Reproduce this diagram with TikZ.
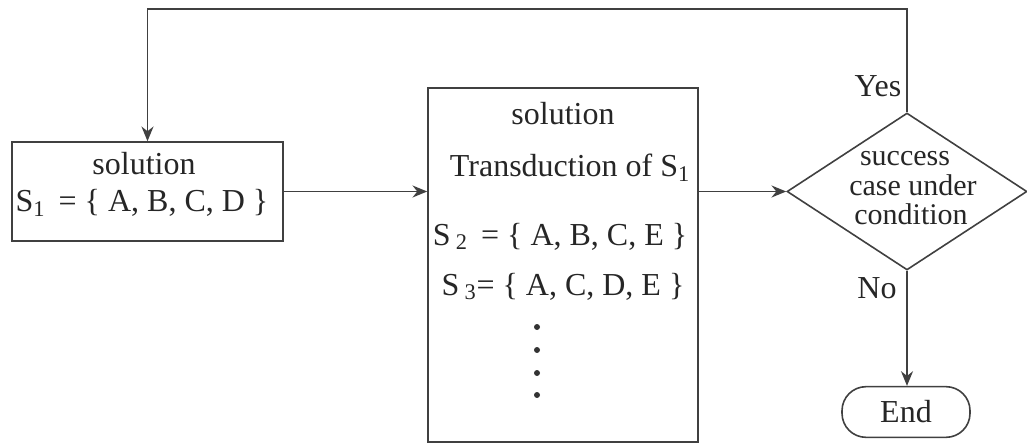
\documentclass[tikz,border=0pt]{standalone}
\usepackage{fontspec}
\setmainfont{Liberation Serif}
\usetikzlibrary{shapes.geometric,arrows.meta}
\begin{document}
\begin{tikzpicture}[x=0.75pt,y=-0.75pt,
  line width=1.2pt,
  every node/.style={text=black!85, font=\fontsize{24}{22}\selectfont},
  boxnode/.style={draw=black!75, rectangle, inner sep=0pt},
  arr/.style={draw=black!75, -{Stealth[length=11pt,width=9pt]}},
  txt/.style={inner sep=0pt, anchor=base},
  qtxt/.style={txt, font=\fontsize{22.5}{22}\selectfont},
  dotn/.style={circle, fill=black!80, inner sep=0pt, minimum size=4.5pt}]
\useasboundingbox (0,0) rectangle (1027,445);
% boxes
\node[boxnode, minimum width=203.25pt, minimum height=74.25pt] (b1) at (147.5,191.5) {};
\node[boxnode, minimum width=202.5pt, minimum height=265.5pt] (b2) at (563,265) {};
\node[draw=black!75, diamond, inner sep=0pt, minimum width=180pt, minimum height=117.75pt] (dia) at (907,191.5) {};
\node[draw=black!75, rounded corners=18pt, minimum width=96pt, minimum height=38pt, inner sep=0pt] (end) at (906,412) {End};
% box1 text
\node[txt] (t1a) at (144,175) {solution};
\node[txt] (t1b) at (142,212) {S\textsubscript{1} \,= \{ A, B, C, D \}};
% box2 text
\node[txt] (t2a) at (563,125) {solution};
\node[txt] (t2b) at (570,177) {Transduction of S\textsubscript{1}};
\node[txt] (t2c) at (560,245) {S\,\textsubscript{2} \,= \{ A, B, C, E \}};
\node[txt] (t2d) at (563,295) {S\,\textsubscript{3}= \{ A, C, D, E \}};
\node[dotn] (d1) at (537,327) {};
\node[dotn] (d2) at (537,350) {};
\node[dotn] (d3) at (537,373) {};
\node[dotn] (d4) at (537,395) {};
% diamond text
\node[qtxt] (q1) at (905,166) {success};
\node[qtxt] (q2) at (913,196) {case under};
\node[qtxt] (q3) at (911,225) {condition};
% labels
\node[txt] (yes) at (878,97) {Yes};
\node[txt] (no) at (877,298) {No};
% connectors
\draw[arr] (b1.east) -- (b1.east -| b2.west);
\draw[arr] (b2.east |- dia.west) -- (dia.west);
\draw[arr] (dia.north) -- ++(0,-103) -| (b1.north);
\draw[arr] (dia.south) -- (dia.south |- end.north);
\end{tikzpicture}
\end{document}
